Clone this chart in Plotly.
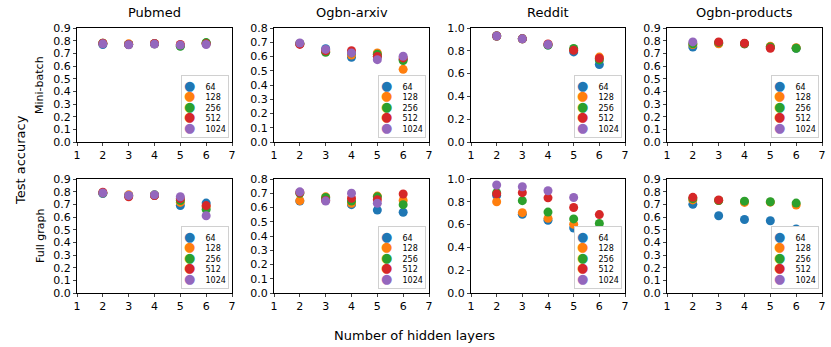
import plotly.graph_objects as go

layers = [2, 3, 4, 5, 6]
hidden = ["64", "128", "256", "512", "1024"]
colors = ["#1f77b4", "#ff7f0e", "#2ca02c", "#d62728", "#9467bd"]
datasets = ["Pubmed", "Ogbn-arxiv", "Reddit", "Ogbn-products"]

# mini-batch accuracy, per dataset, per hidden size (None = no run)
mb_pubmed = [[0.77, 0.77, 0.775, 0.76, 0.78],
             [0.78, 0.775, 0.775, 0.765, 0.78],
             [0.78, 0.77, 0.775, 0.755, 0.785],
             [0.78, 0.77, 0.778, 0.77, 0.775],
             [0.775, 0.768, 0.773, 0.765, 0.77]]
mb_arxiv = [[0.69, 0.655, 0.595, 0.60, 0.58],
            [0.69, 0.635, 0.61, 0.625, 0.51],
            [0.69, 0.63, 0.625, 0.615, 0.572],
            [0.685, 0.64, 0.64, 0.60, 0.59],
            [0.695, 0.65, 0.625, 0.578, 0.602]]
mb_reddit = [[0.93, 0.905, 0.85, 0.79, 0.68],
             [0.93, 0.905, 0.855, 0.81, 0.745],
             [0.93, 0.905, 0.85, 0.82, 0.72],
             [0.93, 0.905, 0.86, 0.805, 0.735],
             [0.93, 0.905, 0.855, None, None]]
mb_products = [[0.75, 0.78, 0.775, 0.75, 0.74],
               [0.77, 0.775, 0.775, 0.755, 0.745],
               [0.775, 0.785, 0.775, 0.75, 0.74],
               [None, 0.79, 0.78, 0.74, None],
               [0.79, None, None, None, None]]

# full-graph accuracy
fg_pubmed = [[0.785, 0.77, 0.77, 0.69, 0.71],
             [0.79, 0.775, 0.772, 0.715, 0.68],
             [0.79, 0.765, 0.775, 0.73, 0.66],
             [0.795, 0.76, 0.77, 0.745, 0.69],
             [0.79, 0.77, 0.775, 0.76, 0.61]]
fg_arxiv = [[0.645, 0.66, 0.62, 0.582, 0.567],
            [0.648, 0.675, 0.63, 0.68, 0.65],
            [0.70, 0.67, 0.645, 0.675, 0.62],
            [0.705, 0.65, 0.665, 0.655, 0.695],
            [0.71, 0.645, 0.70, 0.63, None]]
fg_reddit = [[0.856, 0.69, 0.638, 0.57, 0.515],
             [0.80, 0.705, 0.655, 0.603, 0.545],
             [0.88, 0.81, 0.71, 0.65, 0.61],
             [0.87, 0.88, 0.835, 0.75, 0.688],
             [0.947, 0.932, 0.897, 0.838, None]]
fg_products = [[0.70, 0.61, 0.58, 0.57, 0.505],
               [0.735, 0.73, 0.715, 0.717, 0.695],
               [0.745, 0.73, 0.725, 0.72, 0.71],
               [0.755, 0.735, None, None, None],
               [None, None, None, None, None]]

rows = [[mb_pubmed, mb_arxiv, mb_reddit, mb_products],
        [fg_pubmed, fg_arxiv, fg_reddit, fg_products]]
y_max = [0.9, 0.8, 1.0, 0.9]
y_step = [0.1, 0.1, 0.2, 0.1]

W, H = 831, 347
x_px = [(77, 232), (274, 429), (471, 625), (667, 822)]
y_px = [(28, 142), (179, 293)]
font = "DejaVu Sans"

# legend text built as an annotation so the rows can be as tight as matplotlib's
legend_text = "<br>".join(
    "<span style='color:%s;font-size:13px'>●</span>    %s" % (colors[k], hidden[k]) for k in range(5))

fig = go.Figure()
layout = dict(width=W, height=H, margin=dict(l=0, r=0, t=0, b=0),
              plot_bgcolor="white", paper_bgcolor="white", showlegend=False,
              font=dict(family=font, color="black", size=10))
annotations = []

n = 0
for r in range(2):
    for c in range(4):
        n += 1
        sfx = "" if n == 1 else str(n)
        for k in range(5):
            vals = rows[r][c][k]
            xs = [layers[i] for i in range(5) if vals[i] is not None]
            ys = [v for v in vals if v is not None]
            fig.add_trace(go.Scatter(x=xs, y=ys, mode="markers", name=hidden[k],
                                     marker=dict(color=colors[k], size=9),
                                     xaxis="x" + sfx, yaxis="y" + sfx))
        x0, x1 = x_px[c]
        y0, y1 = y_px[r]
        ticks = []
        v = 0.0
        while v <= y_max[c] + 1e-9:
            ticks.append(round(v, 1))
            v += y_step[c]
        layout["xaxis" + sfx] = dict(domain=[x0 / W, x1 / W], anchor="y" + sfx, range=[1, 7],
                                     tickvals=[1, 2, 3, 4, 5, 6, 7], ticks="outside", ticklen=3,
                                     showline=True, linecolor="black", linewidth=1, mirror=True,
                                     showgrid=False, zeroline=False, automargin=False,
                                     tickfont=dict(size=11))
        layout["yaxis" + sfx] = dict(domain=[1 - y1 / H, 1 - y0 / H], anchor="x" + sfx,
                                     range=[0, y_max[c]], tickvals=ticks, tickformat=".1f",
                                     ticks="outside", ticklen=3,
                                     showline=True, linecolor="black", linewidth=1, mirror=True,
                                     showgrid=False, zeroline=False, automargin=False,
                                     tickfont=dict(size=11))
        annotations.append(dict(text=legend_text, x=(x1 - 3) / W, y=1 - (y1 - 4) / H,
                                xref="paper", yref="paper", xanchor="right", yanchor="bottom",
                                align="left", showarrow=False, bgcolor="white",
                                bordercolor="#d0d0d0", borderwidth=1, borderpad=2,
                                font=dict(size=8)))
        if r == 0:
            annotations.append(dict(text=datasets[c], x=(x0 + x1) / 2 / W, y=1 - 13 / H,
                                    xref="paper", yref="paper", showarrow=False,
                                    xanchor="center", yanchor="middle", font=dict(size=13)))

annotations.append(dict(text="Mini-batch", x=40 / W, y=1 - 85 / H, xref="paper", yref="paper",
                        showarrow=False, textangle=-90, xanchor="center", yanchor="middle",
                        font=dict(size=11)))
annotations.append(dict(text="Full graph", x=40 / W, y=1 - 236 / H, xref="paper", yref="paper",
                        showarrow=False, textangle=-90, xanchor="center", yanchor="middle",
                        font=dict(size=11)))
annotations.append(dict(text="Test accuracy", x=20 / W, y=1 - 160 / H, xref="paper", yref="paper",
                        showarrow=False, textangle=-90, xanchor="center", yanchor="middle",
                        font=dict(size=13)))
annotations.append(dict(text="Number of hidden layers", x=414 / W, y=1 - 335 / H,
                        xref="paper", yref="paper", showarrow=False,
                        xanchor="center", yanchor="middle", font=dict(size=13)))
layout["annotations"] = annotations

fig.update_layout(**layout)
# page body has a default 8px margin, drop it so the figure sits at the window corner
fig.write_html("out.html", config={"displayModeBar": False},
               post_script="document.body.style.margin='0';")
